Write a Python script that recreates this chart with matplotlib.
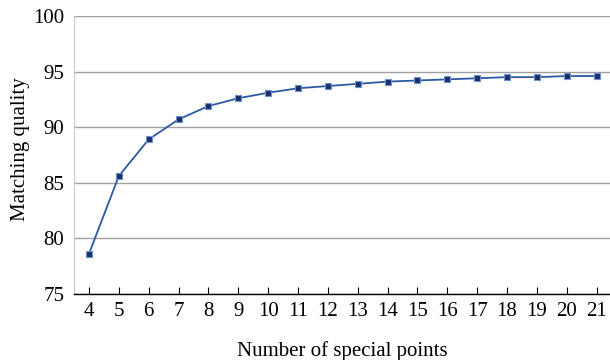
import matplotlib.pyplot as plt

plt.rcParams['font.family'] = ['Liberation Serif', 'DejaVu Serif']

points = [4, 5, 6, 7, 8, 9, 10, 11, 12, 13, 14, 15, 16, 17, 18, 19, 20, 21]
quality = [78.6, 85.6, 88.9, 90.7, 91.9, 92.6, 93.1, 93.5, 93.7, 93.9,
           94.1, 94.2, 94.3, 94.4, 94.5, 94.5, 94.6, 94.6]
yticks = [75, 80, 85, 90, 95, 100]

fig = plt.figure(figsize=(6.1, 3.6), dpi=100)
ax = fig.add_axes([74 / 610, 1 - 294 / 360, 1 - 74 / 610, (294 - 16) / 360])

ax.plot(points, quality, color='#2b5aa3', linewidth=1.3, marker='s', markersize=4,
        markerfacecolor='#1a2f66', markeredgecolor='#6a93d0', markeredgewidth=0.8,
        zorder=3)

ax.set_xlim(3.5, 21.45)
ax.set_ylim(75, 100)
ax.set_xticks(points)
ax.set_yticks(yticks)
ax.yaxis.grid(True, color='#a0a0a0', linewidth=1.0)
ax.set_axisbelow(True)

for s in ['top', 'right']:
    ax.spines[s].set_visible(False)
ax.spines['left'].set_color('#c8c8c8')
ax.spines['bottom'].set_color('black')
ax.spines['bottom'].set_linewidth(1.0)

ax.tick_params(axis='x', direction='in', length=5, width=0.8, labelsize=15, pad=6)
ax.tick_params(axis='y', length=0, labelsize=15, pad=7)

ax.set_xlabel('Number of special points', fontsize=15, labelpad=14)
ax.set_ylabel('Matching quality', fontsize=15)
ax.yaxis.set_label_coords(-0.083, 0.52)

fig.savefig('out.png', dpi=100)
